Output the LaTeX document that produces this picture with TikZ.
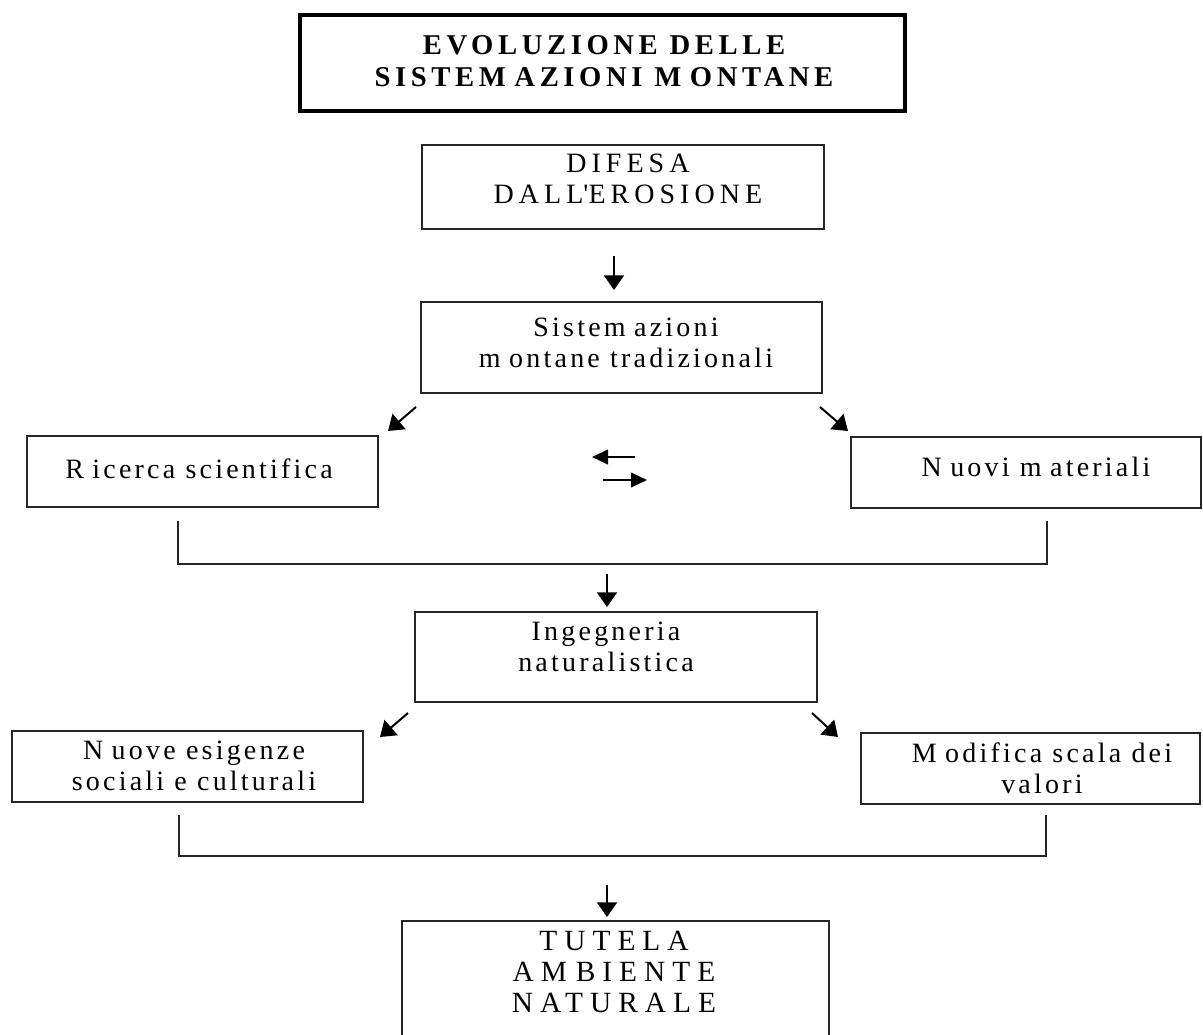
\documentclass[tikz,border=0pt]{standalone}
\usepackage{fontspec}
\setmainfont{Liberation Serif}[LetterSpace=11.5]
\newfontfamily\headfont{Liberation Serif}[LetterSpace=16]
\usetikzlibrary{arrows.meta,fit}
% extra gap after some letters, as in the printed lettering
\newcommand\wg{\kern0.3em}

\tikzset{
  frame/.style={draw=black!85, line width=0.8pt, inner sep=0pt},
  headframe/.style={draw=black, line width=2.6pt, inner sep=0pt},
  txt/.style={align=center, inner sep=0pt, font=\fontsize{21}{23.25}\selectfont},
  captxt/.style={txt, font=\fontsize{21}{23.25}\selectfont\addfontfeatures{LetterSpace=18}},
  headtxt/.style={align=center, inner sep=0pt, font=\headfont\bfseries\fontsize{21.5}{24}\selectfont},
  arr/.style={line width=1.5pt, -{Triangle[length=11pt,width=15pt]}},
  arrsmall/.style={line width=1.5pt, -{Triangle[length=12pt,width=11pt]}},
  link/.style={draw=black!85, line width=0.8pt},
}

\begin{document}
\begin{tikzpicture}[x=0.75pt,y=-0.75pt]
\useasboundingbox (0,0) rectangle (1203,1035);
\clip (0,0) rectangle (1203,1035);

% ---- boxes ----
\coordinate (ti1) at (300,15);   \coordinate (ti2) at (905,111);
\node[headframe, fit=(ti1)(ti2)] (title) {};
\coordinate (df1) at (422,145);  \coordinate (df2) at (824,229);
\node[frame, fit=(df1)(df2)] (difesa) {};
\coordinate (st1) at (421,302);  \coordinate (st2) at (822,393);
\node[frame, fit=(st1)(st2)] (sist) {};
\coordinate (rc1) at (27,436);   \coordinate (rc2) at (378,507);
\node[frame, fit=(rc1)(rc2)] (ricerca) {};
\coordinate (nm1) at (851,437);  \coordinate (nm2) at (1201,508);
\node[frame, fit=(nm1)(nm2)] (nuovi) {};
\coordinate (in1) at (415,612);  \coordinate (in2) at (817,702);
\node[frame, fit=(in1)(in2)] (ing) {};
\coordinate (ne1) at (12,731);   \coordinate (ne2) at (363,802);
\node[frame, fit=(ne1)(ne2)] (esig) {};
\coordinate (mo1) at (861,733);  \coordinate (mo2) at (1200,804);
\node[frame, fit=(mo1)(mo2)] (modif) {};
\coordinate (tu1) at (402,921);  \coordinate (tu2) at (829,1060);
\node[frame, fit=(tu1)(tu2)] (tutela) {};

% ---- texts ----
\node[headtxt] (titletext) at (604,61) {EVOLUZIONE DELLE\\SISTEM\wg AZIONI M\wg ONTANE};
\node[captxt] (difesatext) at (628,179) {DIFESA\\DALL\textquotesingle EROSIONE};
\node[txt] (sisttext) at (626,343) {Sistem\wg azioni\\m\wg ontane tradizionali};
\node[txt] (ricercatext) at (199,469) {R\wg icerca scientifica};
\node[txt] (nuovitext) at (1036,467) {N\wg uovi m\wg ateriali};
\node[txt] (ingtext) at (606,647) {Ingegneria\\naturalistica};
\node[txt] (esigtext) at (194,766) {N\wg uove esigenze\\sociali e culturali};
\node[txt] (modiftext) at (1042,768) {M\wg odifica scala dei\\valori};
\node[captxt, font=\fontsize{22}{23.25}\selectfont\addfontfeatures{LetterSpace=24}] (tutelatext) at (614,972) {TUTELA\\AM\wg BIENTE\\NATURALE};

% ---- connectors ----
\coordinate (a1s) at (614,256); \coordinate (a1e) at (614,290);
\draw[arr] (a1s) -- (a1e);

\coordinate (l1s) at (416,407); \coordinate (l1e) at (388,431);
\draw[arr] (l1s) -- (l1e);
\coordinate (r1s) at (820,407); \coordinate (r1e) at (848,431);
\draw[arr] (r1s) -- (r1e);

\coordinate (xls) at (635,457); \coordinate (xle) at (592,457);
\draw[arrsmall] (xls) -- (xle);
\coordinate (xrs) at (603,480); \coordinate (xre) at (647,480);
\draw[arrsmall] (xrs) -- (xre);

\coordinate (b1l) at (178,521); \coordinate (b1r) at (1047,521);
\draw[link] (b1l) -- ++(0,43) -| (b1r);

\coordinate (a2s) at (607,574); \coordinate (a2e) at (607,607);
\draw[arr] (a2s) -- (a2e);

\coordinate (l2s) at (408,713); \coordinate (l2e) at (380,737);
\draw[arr] (l2s) -- (l2e);
\coordinate (r2s) at (812,713); \coordinate (r2e) at (838,737);
\draw[arr] (r2s) -- (r2e);

\coordinate (b2l) at (179,815); \coordinate (b2r) at (1046,815);
\draw[link] (b2l) -- ++(0,41) -| (b2r);

\coordinate (a3s) at (607,885); \coordinate (a3e) at (607,917);
\draw[arr] (a3s) -- (a3e);
\end{tikzpicture}
\end{document}
